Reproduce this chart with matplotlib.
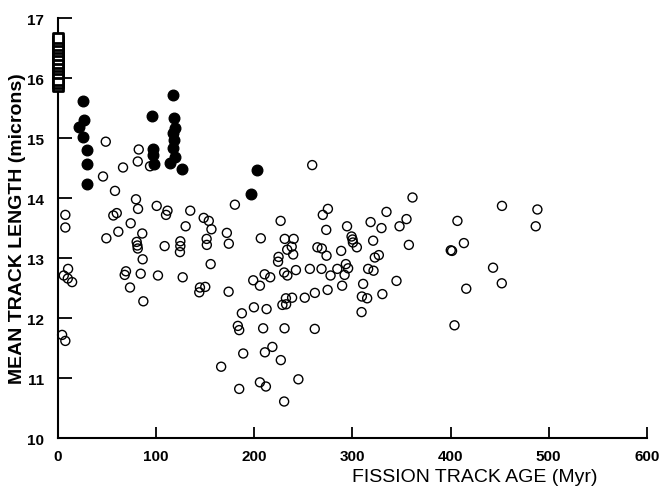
import matplotlib.pyplot as plt

plt.rcParams['font.family'] = ['Liberation Sans', 'DejaVu Sans']

# squares stacked at zero age
sq_age = [0] * 14
sq_len = [15.87, 15.92, 15.97, 16.08, 16.15, 16.2, 16.25, 16.32, 16.38, 16.45,
          16.5, 16.55, 16.62, 16.67]

# filled circles
solid_age = [25.1, 26.1, 21.1, 25.5, 29.2, 29.5, 29.5,
             95.7, 96.4, 96.4, 97.4,
             116.8, 118.1, 118.8, 117.4, 117.8, 117.4, 119.1, 114.1, 126.0,
             202.3, 196.9]
solid_len = [15.61, 15.30, 15.18, 15.01, 14.80, 14.57, 14.23,
             15.37, 14.81, 14.71, 14.57,
             15.71, 15.33, 15.17, 15.09, 14.96, 14.83, 14.68, 14.58, 14.48,
             14.47, 14.06]

# open circles
open_age = [7.4, 7.4, 10.2, 5.8, 9.9, 14.3, 4.1, 7.4,
            48.6, 45.8, 66.2, 58.0, 56.3, 59.8, 61.4, 49.2, 69.2, 67.9, 73.3, 74.0,
            82.2, 81.2, 93.7, 79.4, 81.5, 85.8, 80.1, 80.8, 81.2, 86.2, 84.2, 86.9, 100.5, 101.8,
            111.5, 110.0, 108.6, 124.6, 124.6, 124.2, 130.0, 127.0, 134.7,
            148.4, 153.6, 156.3, 151.4, 151.6, 155.5, 144.6, 143.9, 150.0,
            172.0, 174.0, 180.2, 173.8, 166.2, 183.2, 184.6, 187.3, 188.7, 184.6,
            198.9, 199.6, 206.6, 205.7, 209.0, 205.7, 211.8, 210.8, 210.5, 212.5, 216.2, 218.4,
            226.8, 224.7, 224.2, 227.0, 231.0, 240.1, 230.4, 233.7, 233.5, 238.1, 239.6, 242.4,
            228.6, 232.4, 232.2, 238.5, 230.8, 230.4, 244.9,
            251.4, 256.6, 261.7, 261.6, 268.5, 264.3, 268.8, 269.8, 275.0, 273.3, 273.6,
            277.7, 274.7, 259.0,
            288.5, 294.5, 299.1, 300.1, 300.5, 304.5, 293.3, 295.6, 292.0, 284.6, 289.5,
            309.6, 309.3,
            315.0, 310.9, 316.0, 321.5, 321.1, 322.8, 326.9, 318.5, 329.6, 334.7, 330.5,
            344.9, 348.0, 355.1, 357.5, 361.2,
            400.2, 401.5, 407.0, 413.6, 404.0, 416.0, 443.3, 452.2, 452.4, 488.5, 486.8]
open_len = [13.72, 13.51, 12.82, 12.71, 12.66, 12.60, 11.72, 11.62,
            14.94, 14.36, 14.51, 14.12, 13.71, 13.75, 13.44, 13.33, 12.78, 12.72, 12.51, 13.58,
            14.81, 14.61, 14.53, 13.98, 13.82, 13.41, 13.27, 13.21, 13.16, 12.98, 12.74, 12.28, 13.87, 12.71,
            13.79, 13.72, 13.20, 13.28, 13.20, 13.10, 13.53, 12.68, 13.79,
            13.67, 13.62, 13.48, 13.32, 13.22, 12.90, 12.51, 12.43, 12.52,
            13.42, 13.24, 13.89, 12.44, 11.19, 11.87, 11.80, 12.08, 11.41, 10.82,
            12.63, 12.18, 13.33, 12.54, 11.83, 10.93, 10.86, 11.43, 12.73, 12.15, 12.68, 11.52,
            13.62, 13.02, 12.94, 11.30, 13.32, 13.32, 12.76, 12.71, 13.14, 13.19, 13.06, 12.80,
            12.22, 12.23, 12.33, 12.34, 11.83, 10.61, 10.98,
            12.34, 12.82, 12.42, 11.82, 12.82, 13.18, 13.16, 13.72, 13.82, 13.47, 13.04,
            12.71, 12.47, 14.55,
            13.12, 13.53, 13.36, 13.31, 13.26, 13.18, 12.90, 12.83, 12.72, 12.82, 12.54,
            12.36, 12.10,
            12.33, 12.57, 12.82, 12.79, 13.29, 13.01, 13.05, 13.60, 13.50, 13.77, 12.40,
            12.62, 13.53, 13.65, 13.22, 14.01,
            13.13, 13.12, 13.62, 13.25, 11.88, 12.49, 12.84, 12.58, 13.87, 13.81, 13.53]

fig = plt.figure(figsize=(6.6, 4.89), dpi=100)
ax = fig.add_axes([0.088, 0.102, 0.892, 0.859])

ax.scatter(open_age, open_len, s=42, facecolors='none', edgecolors='black',
           linewidths=1.0, clip_on=False, zorder=3)
ax.scatter(solid_age, solid_len, s=58, color='black', clip_on=False, zorder=4)
ax.scatter(sq_age, sq_len, s=46, marker='s', facecolors='white',
           edgecolors='black', linewidths=2.0, clip_on=False, zorder=5)

ax.set_xlim(0, 600)
ax.set_ylim(10, 17)
ax.set_xticks([0, 100, 200, 300, 400, 500, 600])
ax.set_yticks([10, 11, 12, 13, 14, 15, 16, 17])

for side in ['top', 'right']:
    ax.spines[side].set_visible(False)
for side in ['left', 'bottom']:
    ax.spines[side].set_linewidth(1.5)

ax.tick_params(axis='y', direction='in', length=10, width=1.3, pad=10,
               labelsize=11)
ax.tick_params(axis='x', direction='in', length=8, width=1.3, pad=8,
               labelsize=11)
for lbl in ax.get_xticklabels() + ax.get_yticklabels():
    lbl.set_fontweight('bold')

ax.set_ylabel('MEAN TRACK LENGTH (microns)', fontsize=14, fontweight='bold')
ax.yaxis.set_label_coords(-0.054, 0.5)
ax.set_xlabel('FISSION TRACK AGE (Myr)', fontsize=14)
ax.xaxis.set_label_coords(0.708, -0.072)

fig.savefig('out.png', dpi=100)
